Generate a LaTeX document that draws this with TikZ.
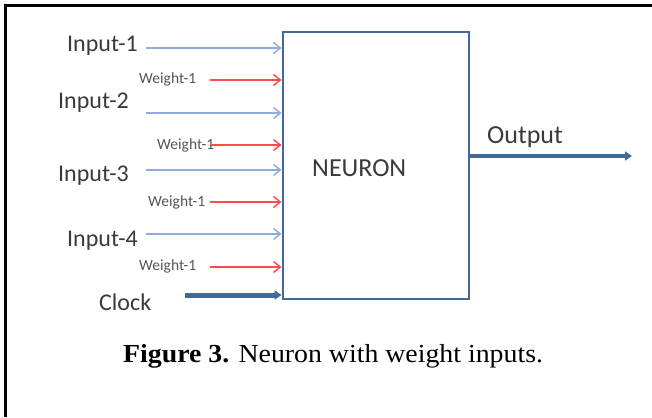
\documentclass[tikz,border=0pt]{standalone}
\usepackage{fontspec}
\usetikzlibrary{arrows.meta}
\newfontfamily\labelfont{Carlito}
\newfontfamily\captionfont{Liberation Serif}
\definecolor{boxblue}{HTML}{41699A}
\definecolor{inblue}{HTML}{8FAADC}
\definecolor{wred}{HTML}{FF4B4B}
\definecolor{labelgray}{HTML}{3A3A3A}
\definecolor{wgray}{HTML}{555555}
\tikzset{
  lbl/.style={inner sep=0pt, anchor=base west, text=labelgray,
    font=\labelfont\fontsize{24}{24}\selectfont},
  wlbl/.style={inner sep=0pt, anchor=base west, text=wgray,
    font=\labelfont\fontsize{15.5}{15.5}\selectfont},
  biglbl/.style={inner sep=0pt, anchor=base west, text=labelgray,
    font=\labelfont\fontsize{26}{26}\selectfont},
  inarrow/.style={draw=inblue, line width=1.6pt,
    -{Straight Barb[length=7pt,width=11pt,line width=1.4pt]}},
  warrow/.style={draw=wred, line width=1.6pt,
    -{Straight Barb[length=7pt,width=11pt,line width=1.4pt]}},
  thickarrow/.style={draw=boxblue, -{Triangle[length=7pt,width=9pt]}},
  neuronbox/.style={draw=boxblue, line width=2.8pt, fill=white,
    minimum width=186pt, minimum height=267pt, inner sep=0pt},
}
\begin{document}
\begin{tikzpicture}[x=1pt, y=-1pt]
  \useasboundingbox (0,0) rectangle (652,417);
  \fill[white] (0,0) rectangle (652,417);

  % frame
  \draw[line width=2.4pt] (5.5,417) -- (5.5,5.5) -- (652,5.5);

  % the neuron block
  \node[neuronbox] (neuron) at (376,165.5) {};
  \node[biglbl] (ntext) at (312,176) {NEURON};

  % input labels
  \node[lbl] (in1) at (67,52) {Input-1};
  \node[lbl] (in2) at (58,109) {Input-2};
  \node[lbl] (in3) at (58,181) {Input-3};
  \node[lbl] (in4) at (67,246) {Input-4};
  \node[lbl] (clk) at (99,310) {Clock};

  % weight labels
  \node[wlbl] (w1) at (139,84) {Weight-1};
  \node[wlbl] (w2) at (157,149) {Weight-1};
  \node[wlbl] (w3) at (148,206) {Weight-1};
  \node[wlbl] (w4) at (139,270) {Weight-1};

  % starting points of the signal lines
  \coordinate (s1) at (146,48);
  \coordinate (sw1) at (210,80);
  \coordinate (s2) at (146,113);
  \coordinate (sw2) at (210,145);
  \coordinate (s3) at (146,170);
  \coordinate (sw3) at (210,202);
  \coordinate (s4) at (146,234);
  \coordinate (sw4) at (210,267);
  \coordinate (sclk) at (185,295);
  \coordinate (outend) at (632,156);

  \draw[inarrow] (s1) -- (s1 -| neuron.west);
  \draw[warrow] (sw1) -- (sw1 -| neuron.west);
  \draw[inarrow] (s2) -- (s2 -| neuron.west);
  \draw[warrow] (sw2) -- (sw2 -| neuron.west);
  \draw[inarrow] (s3) -- (s3 -| neuron.west);
  \draw[warrow] (sw3) -- (sw3 -| neuron.west);
  \draw[inarrow] (s4) -- (s4 -| neuron.west);
  \draw[warrow] (sw4) -- (sw4 -| neuron.west);
  \draw[thickarrow, line width=5pt] (sclk) -- (sclk -| neuron.west);

  % output
  \draw[thickarrow, line width=4pt] (neuron.east |- outend) -- (outend);
  \node[biglbl] (outlbl) at (487,143) {Output};

  % caption
  \node[inner sep=0pt, anchor=base west, xscale=1.07,
    font=\captionfont\fontsize{26}{26}\selectfont] (cap) at (123,362)
    {\textbf{Figure 3.} Neuron with weight inputs.};
\end{tikzpicture}
\end{document}
